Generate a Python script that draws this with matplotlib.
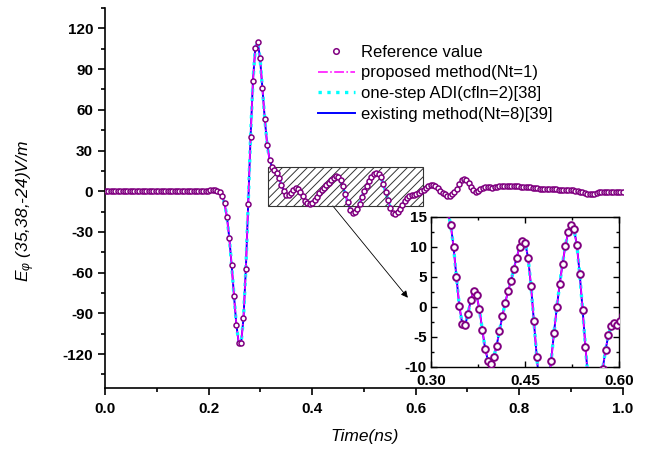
import matplotlib
matplotlib.use('Agg')
import matplotlib.pyplot as plt
import numpy as np
from matplotlib.patches import Rectangle
from matplotlib.ticker import MultipleLocator

plt.rcParams['font.family'] = ['Liberation Sans', 'DejaVu Sans']
plt.rcParams['mathtext.fontset'] = 'custom'
plt.rcParams['mathtext.it'] = 'Liberation Sans:italic'
plt.rcParams['mathtext.rm'] = 'Liberation Sans'
plt.rcParams['hatch.linewidth'] = 0.7
plt.rcParams['axes.unicode_minus'] = False

# E_phi at the probe point (uniform time steps 0.002..1.0 ns)
e_phi = [
    0.0, 0.0, 0.0, 0.0, 0.0, 0.0, 0.0, 0.0, 0.0, 0.0,
    0.0, 0.0, 0.0, 0.0, 0.0, 0.0, 0.0, 0.0, 0.0, 0.0,
    0.0, 0.0, 0.0, 0.0, 0.0, 0.0, 0.0, 0.0, 0.0, 0.0,
    0.0, 0.0, 0.0, 0.0, 0.0, 0.0, 0.0, 0.0, 0.0, 0.0,
    0.0, 0.1, 0.2, 0.4, 0.6, 0.8, 0.8, 0.4, -0.4, -3.2,
    -8.9, -18.7, -34.2, -54.3, -77.1, -98.4, -111.9, -112.0, -93.5, -57.4,
    -9.6, 40.2, 81.4, 105.7, 110.1, 97.9, 75.8, 53.0, 34.3, 23.3,
    18.1, 15.7, 13.7, 9.9, 4.9, 0.1, -2.8, -3.1, -1.2, 1.2,
    2.6, 1.9, -0.4, -3.8, -7.0, -9.0, -9.5, -8.4, -6.5, -4.0,
    -1.6, 0.7, 2.6, 4.3, 6.3, 8.2, 10.0, 11.0, 10.6, 8.1,
    3.5, -2.3, -8.3, -13.5, -15.8, -15.4, -12.8, -9.1, -4.4, -0.1,
    3.8, 7.2, 10.2, 12.5, 13.6, 12.9, 10.3, 5.4, -0.5, -6.7,
    -12.5, -16.2, -17.0, -15.5, -12.8, -10.4, -7.2, -4.7, -3.2, -2.7,
    -3.0, -2.4, -1.3, -0.2, 1.0, 2.4, 3.6, 4.4, 4.5, 3.8,
    2.2, 0.5, -1.0, -2.4, -3.3, -3.3, -2.0, -0.3, 1.8, 5.2,
    8.0, 9.1, 8.6, 6.2, 3.0, 0.8, -0.3, 0.2, 1.5, 2.7,
    3.3, 3.2, 2.8, 2.5, 2.9, 3.3, 3.5, 3.6, 3.6, 3.7,
    3.7, 3.7, 3.6, 3.6, 3.5, 3.4, 3.3, 3.1, 3.0, 2.8,
    2.6, 2.4, 2.2, 2.0, 1.9, 1.8, 1.7, 1.6, 1.5, 1.4,
    1.3, 1.2, 1.1, 1.0, 1.0, 0.9, 0.8, 0.6, 0.4, 0.1,
    -0.3, -0.8, -1.3, -1.7, -2.0, -2.0, -1.7, -1.2, -0.8, -0.5,
    -0.4, -0.4, -0.5, -0.6, -0.6, -0.6, -0.7, -0.7, -0.7,
]
t = np.linspace(0.002, 1.0, len(e_phi))

labels = ['Reference value', 'proposed method(Nt=1)',
          'one-step ADI(cfln=2)[38]', 'existing method(Nt=8)[39]']

# zoom window (hatched box) and inset limits
box_t = [0.314, 0.614]
box_v = [-10.8, 18.0]
arrow_end = (0.585, -78.5)
inset_t = [0.30, 0.60]
inset_v = [-10, 15]

purple = '#800080'


def draw_curves(ax, ms, mew):
    l3, = ax.plot(t, e_phi, '-', color='#0000FF', lw=1.4, zorder=2)
    l2, = ax.plot(t, e_phi, ':', color='#00FFFF', lw=2.4, zorder=3)
    l1, = ax.plot(t, e_phi, '-.', color='#FF00FF', lw=1.1, zorder=4)
    l0, = ax.plot(t, e_phi, 'o', ls='none', mfc='white', mec=purple,
                  ms=ms, mew=mew, zorder=6)
    return [l0, l1, l2, l3]


fig = plt.figure(figsize=(6.5, 4.5), dpi=100)
ax = fig.add_axes([0.1615, 0.1378, 0.7965, 0.8444])

handles = draw_curves(ax, 3.6, 1.1)
ax.set_xlim(0, 1.0)
ax.set_ylim(-145, 135)
ax.xaxis.set_major_locator(MultipleLocator(0.2))
ax.xaxis.set_minor_locator(MultipleLocator(0.1))
ax.yaxis.set_major_locator(MultipleLocator(30))
ax.yaxis.set_minor_locator(MultipleLocator(15))
ax.set_xticklabels([f'{v:.1f}' for v in ax.get_xticks()])
for s in ['top', 'right']:
    ax.spines[s].set_visible(False)
for s in ['left', 'bottom']:
    ax.spines[s].set_linewidth(1.2)
ax.tick_params(which='major', length=5, width=1.2, labelsize=11)
ax.tick_params(which='minor', length=3, width=1.2)
ax.tick_params(axis='x', pad=5)
for lb in ax.get_xticklabels() + ax.get_yticklabels():
    lb.set_fontweight('bold')

box = Rectangle((box_t[0], box_v[0]), box_t[1] - box_t[0], box_v[1] - box_v[0],
                facecolor='none', edgecolor='#333333', hatch='////', lw=0.8, zorder=5)
ax.add_patch(box)
ax.annotate('', xy=arrow_end, xytext=(0.44, box_v[0]),
            arrowprops=dict(arrowstyle='-|>', color='black', lw=0.6,
                            mutation_scale=10, shrinkA=0, shrinkB=0))

leg = ax.legend(handles, labels, loc='upper left', bbox_to_anchor=(0.489, 0.90),
                bbox_transform=fig.transFigure, frameon=False, fontsize=12,
                labelspacing=0.33, handlelength=2.2, handletextpad=0.4,
                borderpad=0, borderaxespad=0, numpoints=1)
leg.legend_handles[0].set_markersize(4.0)

fig.text(365 / 650, 1 - 437 / 450, 'Time(ns)', style='italic', fontsize=12.5,
         ha='center', va='center')
fig.text(26 / 650, 1 - 211 / 450, '$E_{φ}$ (35,38,-24)V/m', style='italic',
         fontsize=12.5, rotation=90, ha='center', va='center')

# inset
axi = fig.add_axes([0.663, 0.185, 0.289, 0.333])
draw_curves(axi, 4.8, 1.4)
axi.set_xlim(*inset_t)
axi.set_ylim(*inset_v)
axi.xaxis.set_major_locator(MultipleLocator(0.15))
axi.xaxis.set_minor_locator(MultipleLocator(0.075))
axi.yaxis.set_major_locator(MultipleLocator(5))
axi.yaxis.set_minor_locator(MultipleLocator(2.5))
axi.set_xticklabels([f'{v:.2f}' for v in axi.get_xticks()])
for s in axi.spines.values():
    s.set_linewidth(1.0)
axi.tick_params(which='both', direction='in', top=True, right=True, labelsize=11, pad=3)
axi.tick_params(axis='x', pad=5)
axi.tick_params(which='major', length=4, width=1.0)
axi.tick_params(which='minor', length=2.5, width=1.0)
for lb in axi.get_xticklabels() + axi.get_yticklabels():
    lb.set_fontweight('bold')

fig.savefig('out.png', dpi=100)
